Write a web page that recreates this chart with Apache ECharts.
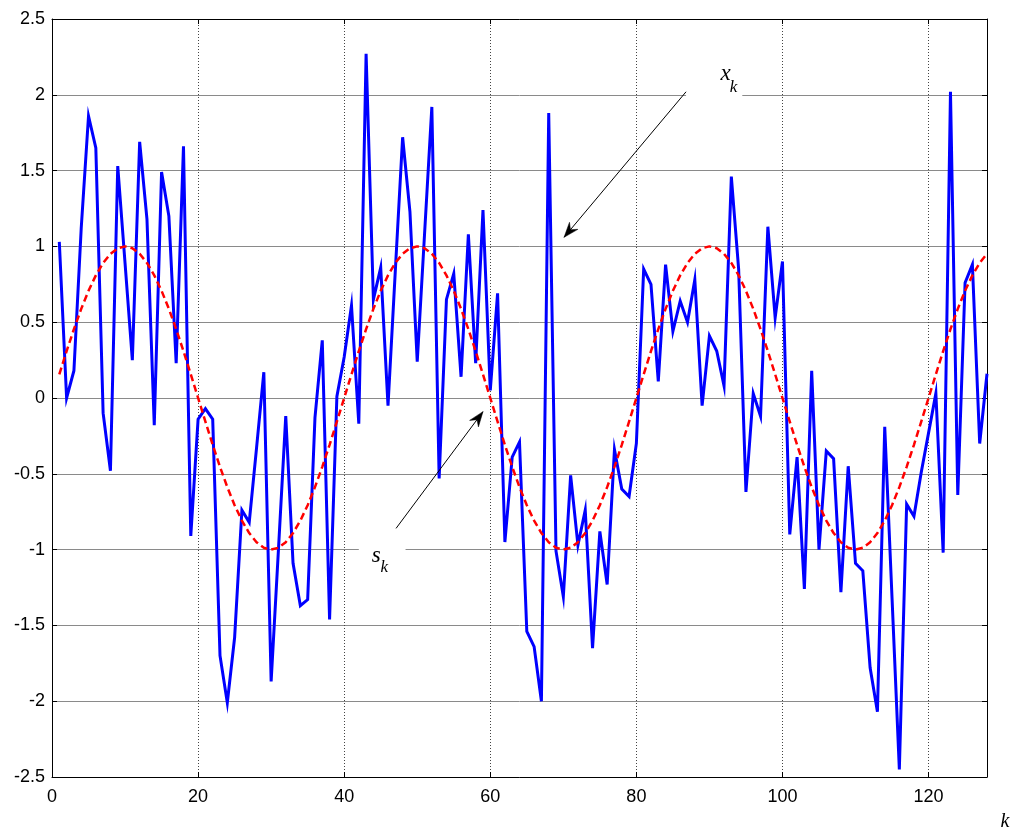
<!DOCTYPE html>
<html>
<head>
<meta charset="utf-8">
<script src="https://cdn.jsdelivr.net/npm/echarts@6/dist/echarts.min.js"></script>
<style>
html,body{margin:0;padding:0;background:#fff;}
#c{width:1011px;height:830px;}
</style>
</head>
<body>
<div id="c"></div>
<script>
// Noisy observations x_k (k = 1..128)
const xk = [
  1.03, 0.00, 0.18, 1.12, 1.86, 1.65, -0.10, -0.48, 1.53, 0.89,
  0.25, 1.69, 1.18, -0.18, 1.49, 1.20, 0.23, 1.66, -0.91, -0.14,
  -0.07, -0.14, -1.70, -2.01, -1.58, -0.74, -0.82, -0.33, 0.17, -1.87,
  -1.00, -0.12, -1.09, -1.37, -1.33, -0.13, 0.38, -1.46, 0.01, 0.27,
  0.61, -0.17, 2.27, 0.65, 0.86, -0.05, 0.84, 1.72, 1.23, 0.24,
  1.08, 1.92, -0.53, 0.65, 0.82, 0.14, 1.08, 0.23, 1.24, 0.05,
  0.69, -0.95, -0.39, -0.29, -1.54, -1.64, -2.00, 1.88, -1.01, -1.31,
  -0.51, -0.97, -0.74, -1.65, -0.88, -1.23, -0.34, -0.60, -0.65, -0.30,
  0.85, 0.75, 0.11, 0.88, 0.44, 0.64, 0.50, 0.78, -0.05, 0.41,
  0.31, 0.08, 1.46, 0.85, -0.62, 0.03, -0.12, 1.13, 0.53, 0.90,
  -0.90, -0.39, -1.26, 0.18, -1.00, -0.35, -0.40, -1.28, -0.45, -1.09,
  -1.14, -1.78, -2.07, -0.19, -1.32, -2.45, -0.70, -0.78, -0.49, -0.23,
  0.03, -1.02, 2.02, -0.64, 0.76, 0.88, -0.30, 0.16
];
// Clean signal s_k (k = 1..128)
const sk = [
  0.156, 0.309, 0.454, 0.588, 0.707, 0.809, 0.891, 0.951, 0.988, 1.000,
  0.988, 0.951, 0.891, 0.809, 0.707, 0.588, 0.454, 0.309, 0.156, 0.000,
  -0.156, -0.309, -0.454, -0.588, -0.707, -0.809, -0.891, -0.951, -0.988, -1.000,
  -0.988, -0.951, -0.891, -0.809, -0.707, -0.588, -0.454, -0.309, -0.156, 0.000,
  0.156, 0.309, 0.454, 0.588, 0.707, 0.809, 0.891, 0.951, 0.988, 1.000,
  0.988, 0.951, 0.891, 0.809, 0.707, 0.588, 0.454, 0.309, 0.156, 0.000,
  -0.156, -0.309, -0.454, -0.588, -0.707, -0.809, -0.891, -0.951, -0.988, -1.000,
  -0.988, -0.951, -0.891, -0.809, -0.707, -0.588, -0.454, -0.309, -0.156, 0.000,
  0.156, 0.309, 0.454, 0.588, 0.707, 0.809, 0.891, 0.951, 0.988, 1.000,
  0.988, 0.951, 0.891, 0.809, 0.707, 0.588, 0.454, 0.309, 0.156, 0.000,
  -0.156, -0.309, -0.454, -0.588, -0.707, -0.809, -0.891, -0.951, -0.988, -1.000,
  -0.988, -0.951, -0.891, -0.809, -0.707, -0.588, -0.454, -0.309, -0.156, 0.000,
  0.156, 0.309, 0.454, 0.588, 0.707, 0.809, 0.891, 0.951
];
const kIndex = xk.map((_, i) => i + 1);
const xTicks = [0, 20, 40, 60, 80, 100, 120];
const yTicks = [-2.5, -2, -1.5, -1, -0.5, 0, 0.5, 1, 1.5, 2, 2.5];

const chart = echarts.init(document.getElementById('c'), null, {renderer: 'canvas'});
const labelFont = {fontFamily: 'Liberation Sans, Arial, sans-serif', fontSize: 18, color: '#000'};

const baseX = {
  type: 'value', min: 0, max: 128, interval: 20,
  axisLine: {show: true, onZero: false, lineStyle: {color: '#000', width: 1}},
  axisTick: {show: true, inside: true, length: 5, lineStyle: {color: '#000'}}
};
const baseY = {
  type: 'value', min: -2.5, max: 2.5, interval: 0.5,
  axisLine: {show: true, onZero: false, lineStyle: {color: '#000', width: 1}},
  axisTick: {show: true, inside: true, length: 5, lineStyle: {color: '#000'}}
};

chart.setOption({
  animation: false,
  backgroundColor: '#fff',
  grid: {left: 52, right: 24, top: 19, bottom: 53, containLabel: false},
  xAxis: [
    Object.assign({}, baseX, {
      position: 'bottom',
      axisLabel: Object.assign({margin: 11, showMaxLabel: false,
        formatter: v => (xTicks.indexOf(v) >= 0 ? String(v) : '')}, labelFont),
      splitLine: {show: true, lineStyle: {color: '#444', width: 1, type: [1, 2]}}
    }),
    Object.assign({}, baseX, {
      position: 'top',
      axisLabel: {show: false},
      splitLine: {show: false}
    })
  ],
  yAxis: [
    Object.assign({}, baseY, {
      position: 'left',
      axisLabel: Object.assign({margin: 7,
        formatter: v => (yTicks.indexOf(v) >= 0 ? String(v) : '')}, labelFont),
      splitLine: {show: true, lineStyle: {color: '#8a8a8a', width: 1}}
    }),
    Object.assign({}, baseY, {
      position: 'right',
      axisLabel: {show: false},
      splitLine: {show: false}
    })
  ],
  series: [
    {
      name: 'x_k', type: 'line', xAxisIndex: 0, yAxisIndex: 0,
      data: kIndex.map((k, i) => [k, xk[i]]),
      showSymbol: false, symbol: 'none',
      lineStyle: {color: '#0000ff', width: 3, join: 'miter'},
      z: 2
    },
    {
      name: 's_k', type: 'line', xAxisIndex: 0, yAxisIndex: 0,
      data: kIndex.map((k, i) => [k, sk[i]]),
      showSymbol: false, symbol: 'none', smooth: false,
      lineStyle: {color: '#ff0000', width: 2.5, type: [7, 4]},
      z: 3
    }
  ]
});

// Annotations (positions given in data coordinates; text anchored at its middle)
const annotations = [
  {from: [86.8, 2.02], to: [70.1, 1.06], box: [[86.8, 2.08], [94.5, 1.94]],
   main: 'x', mainAt: [92.2, 2.137], sub: 'k', subAt: [93.3, 2.048]},
  {from: [47.1, -0.86], to: [59.0, -0.09], box: [[42.0, -0.95], [48.4, -1.05]],
   main: 's', mainAt: [44.4, -1.039], sub: 'k', subAt: [45.5, -1.118]}
];

function px(p) { return chart.convertToPixel({xAxisIndex: 0, yAxisIndex: 0}, p); }

const graphics = [];
annotations.forEach(a => {
  const b0 = px(a.box[0]), b1 = px(a.box[1]);
  graphics.push({type: 'rect', z: 50,
    shape: {x: Math.min(b0[0], b1[0]), y: Math.min(b0[1], b1[1]),
            width: Math.abs(b1[0] - b0[0]), height: Math.abs(b1[1] - b0[1])},
    style: {fill: '#fff'}});
  const s = px(a.from), t = px(a.to);
  graphics.push({type: 'line', z: 51,
    shape: {x1: s[0], y1: s[1], x2: t[0], y2: t[1]},
    style: {stroke: '#000', lineWidth: 1}});
  const dx = t[0] - s[0], dy = t[1] - s[1];
  const L = Math.hypot(dx, dy), ux = dx / L, uy = dy / L;
  const nx = -uy, ny = ux;
  const hl = 15, hw = 5.5, notch = 10;
  const bx = t[0] - ux * hl, by = t[1] - uy * hl;
  graphics.push({type: 'polygon', z: 52,
    shape: {points: [
      [t[0], t[1]],
      [bx + nx * hw, by + ny * hw],
      [t[0] - ux * notch, t[1] - uy * notch],
      [bx - nx * hw, by - ny * hw]
    ]},
    style: {fill: '#000', stroke: '#000', lineWidth: 0.5}});
  const m = px(a.mainAt), sb = px(a.subAt);
  graphics.push({type: 'text', z: 53, x: m[0], y: m[1],
    style: {text: a.main, font: 'italic 23px "Liberation Serif", "Times New Roman", serif',
            fill: '#000', align: 'center', verticalAlign: 'middle'}});
  graphics.push({type: 'text', z: 53, x: sb[0], y: sb[1],
    style: {text: a.sub, font: 'italic 17px "Liberation Serif", "Times New Roman", serif',
            fill: '#000', align: 'center', verticalAlign: 'middle'}});
});
// axis name "k"
const kp = px([128, -2.5]);
graphics.push({type: 'text', z: 53, x: kp[0] + 18, y: kp[1] + 45,
  style: {text: 'k', font: 'italic 20px "Liberation Serif", "Times New Roman", serif',
          fill: '#000', align: 'center', verticalAlign: 'middle'}});

chart.setOption({graphic: graphics});
</script>
</body>
</html>
